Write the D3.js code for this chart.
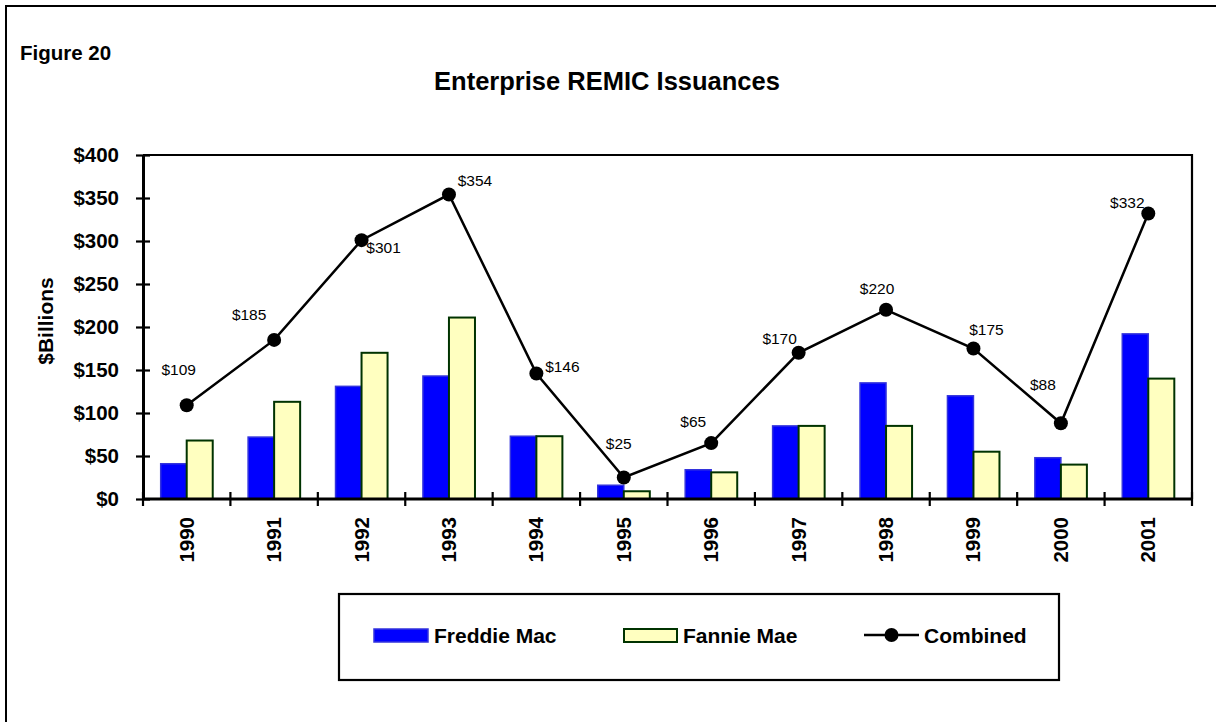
<!DOCTYPE html>
<html>
<head>
<meta charset="utf-8">
<script src="https://cdn.jsdelivr.net/npm/d3@7/dist/d3.min.js"></script>
<style>
  html, body { margin: 0; padding: 0; background: #fff; }
  svg { display: block; font-family: "Liberation Sans", Arial, sans-serif; }
</style>
</head>
<body>
<svg id="chart" width="1216" height="722"></svg>
<script>
// ---- data ----
const years = ["1990","1991","1992","1993","1994","1995","1996","1997","1998","1999","2000","2001"];
const freddieMac = [41, 72, 131, 143, 73, 16, 34, 85, 135, 120, 48, 192];
const fannieMae  = [68, 113, 170, 211, 73, 9, 31, 85, 85, 55, 40, 140];
const combined   = [109, 185, 301, 354, 146, 25, 65, 170, 220, 175, 88, 332];
const yTicks = [0, 50, 100, 150, 200, 250, 300, 350, 400];
const seriesNames = ["Freddie Mac", "Fannie Mae", "Combined"];

// ---- layout ----
const svg = d3.select("#chart");
const L = 143, R = 1192, T = 155, B = 499;
const font = '"Liberation Sans", Arial, sans-serif';

// outer frame (top + left visible)
svg.append("rect").attr("x", 6).attr("y", 6).attr("width", 1400).attr("height", 900)
  .attr("fill", "none").attr("stroke", "#000").attr("stroke-width", 2);

svg.append("text").attr("x", 20).attr("y", 60).text("Figure 20")
  .attr("font-size", 20.5).attr("font-weight", "bold").attr("fill", "#000");

svg.append("text").attr("x", 607).attr("y", 90).attr("text-anchor", "middle")
  .text("Enterprise REMIC Issuances")
  .attr("font-size", 25.5).attr("font-weight", "bold").attr("fill", "#000");

const x = d3.scaleBand().domain(years).range([L, R]).padding(0);
const sub = d3.scaleBand().domain(["f", "m"]).range([0, x.bandwidth()]).paddingInner(0).paddingOuter(0.68);
const y = d3.scaleLinear().domain([0, 400]).range([B, T]);

// plot frame top/right
svg.append("path").attr("d", `M${L},${T}H${R}V${B}`).attr("fill", "none")
  .attr("stroke", "#000").attr("stroke-width", 2.2);

// bars
const g = svg.append("g");
g.selectAll("rect.fred").data(years).join("rect").attr("class", "fred")
  .attr("x", d => x(d) + sub("f")).attr("width", sub.bandwidth())
  .attr("y", (d, i) => y(freddieMac[i])).attr("height", (d, i) => y(0) - y(freddieMac[i]))
  .attr("fill", "#0000ff").attr("stroke", "#3333dd").attr("stroke-width", 1.5);
g.selectAll("rect.fan").data(years).join("rect").attr("class", "fan")
  .attr("x", d => x(d) + sub("m")).attr("width", sub.bandwidth())
  .attr("y", (d, i) => y(fannieMae[i])).attr("height", (d, i) => y(0) - y(fannieMae[i]))
  .attr("fill", "#ffffc0").attr("stroke", "#003300").attr("stroke-width", 2);

// y axis
const yAxis = d3.axisLeft(y).tickValues(yTicks).tickFormat(d => "$" + d)
  .tickSize(7).tickSizeOuter(0).tickPadding(17);
const ya = svg.append("g").attr("transform", `translate(${L},0)`).call(yAxis);
ya.select(".domain").attr("stroke", "#000").attr("stroke-width", 3);
ya.selectAll(".tick line").attr("x1", 7).attr("x2", -7).attr("stroke", "#000").attr("stroke-width", 2.2);
ya.selectAll(".tick text").attr("font-family", font).attr("font-size", 20.5)
  .attr("font-weight", "bold").attr("fill", "#000");

svg.append("text").attr("transform", "translate(53,321) rotate(-90)")
  .attr("text-anchor", "middle").text("$Billions")
  .attr("font-size", 21).attr("font-weight", "bold").attr("fill", "#000");

// x axis
svg.append("line").attr("x1", L - 1).attr("x2", R + 1).attr("y1", B).attr("y2", B)
  .attr("stroke", "#000").attr("stroke-width", 3);
const bounds = years.map(d => x(d)).concat([x(years[years.length - 1]) + x.bandwidth()]);
svg.selectAll("line.xt").data(bounds).join("line").attr("class", "xt")
  .attr("x1", d => d).attr("x2", d => d).attr("y1", B - 7).attr("y2", B + 7)
  .attr("stroke", "#000").attr("stroke-width", 2.2);
svg.selectAll("text.xl").data(years).join("text").attr("class", "xl")
  .attr("transform", d => `translate(${x(d) + x.bandwidth() / 2 + 7},517) rotate(-90)`)
  .attr("text-anchor", "end").text(d => d)
  .attr("font-size", 20.5).attr("font-weight", "bold").attr("fill", "#000");

// combined line
const cx = d => x(d) + x.bandwidth() / 2;
const line = d3.line().x(d => cx(d[0])).y(d => y(d[1]));
const pts = years.map((d, i) => [d, combined[i]]);
svg.append("path").datum(pts).attr("d", line).attr("fill", "none")
  .attr("stroke", "#000").attr("stroke-width", 2.5);
svg.selectAll("circle.pt").data(pts).join("circle").attr("class", "pt")
  .attr("cx", d => cx(d[0])).attr("cy", d => y(d[1])).attr("r", 7).attr("fill", "#000");

// data label placement (dx, dy from the point)
const labelOffset = {
  "1990": [-8, -30], "1991": [-25, -20], "1992": [22, 13], "1993": [26, -9],
  "1994": [26, -1], "1995": [-5, -29], "1996": [-18, -16], "1997": [-19, -9],
  "1998": [-9, -16], "1999": [13, -14], "2000": [-18, -33], "2001": [-21, -5]
};
svg.selectAll("text.dl").data(pts).join("text").attr("class", "dl")
  .attr("x", d => cx(d[0]) + labelOffset[d[0]][0])
  .attr("y", d => y(d[1]) + labelOffset[d[0]][1])
  .attr("text-anchor", "middle").text(d => "$" + d[1])
  .attr("font-size", 15.5).attr("fill", "#000");

// legend
const lg = svg.append("g");
lg.append("rect").attr("x", 339).attr("y", 594).attr("width", 720).attr("height", 86)
  .attr("fill", "#fff").attr("stroke", "#000").attr("stroke-width", 2.2);
lg.append("rect").attr("x", 374).attr("y", 629).attr("width", 54).attr("height", 13)
  .attr("fill", "#0000ff").attr("stroke", "#3333dd").attr("stroke-width", 1.5);
lg.append("text").attr("x", 434).attr("y", 642.5).text(seriesNames[0])
  .attr("font-size", 21).attr("font-weight", "bold").attr("fill", "#000");
lg.append("rect").attr("x", 624).attr("y", 629).attr("width", 53).attr("height", 13)
  .attr("fill", "#ffffc0").attr("stroke", "#003300").attr("stroke-width", 2);
lg.append("text").attr("x", 683).attr("y", 642.5).text(seriesNames[1])
  .attr("font-size", 21).attr("font-weight", "bold").attr("fill", "#000");
lg.append("line").attr("x1", 864).attr("x2", 919).attr("y1", 635).attr("y2", 635)
  .attr("stroke", "#000").attr("stroke-width", 2.5);
lg.append("circle").attr("cx", 891.5).attr("cy", 635).attr("r", 7).attr("fill", "#000");
lg.append("text").attr("x", 924).attr("y", 642.5).text(seriesNames[2])
  .attr("font-size", 21).attr("font-weight", "bold").attr("fill", "#000");
</script>
</body>
</html>
